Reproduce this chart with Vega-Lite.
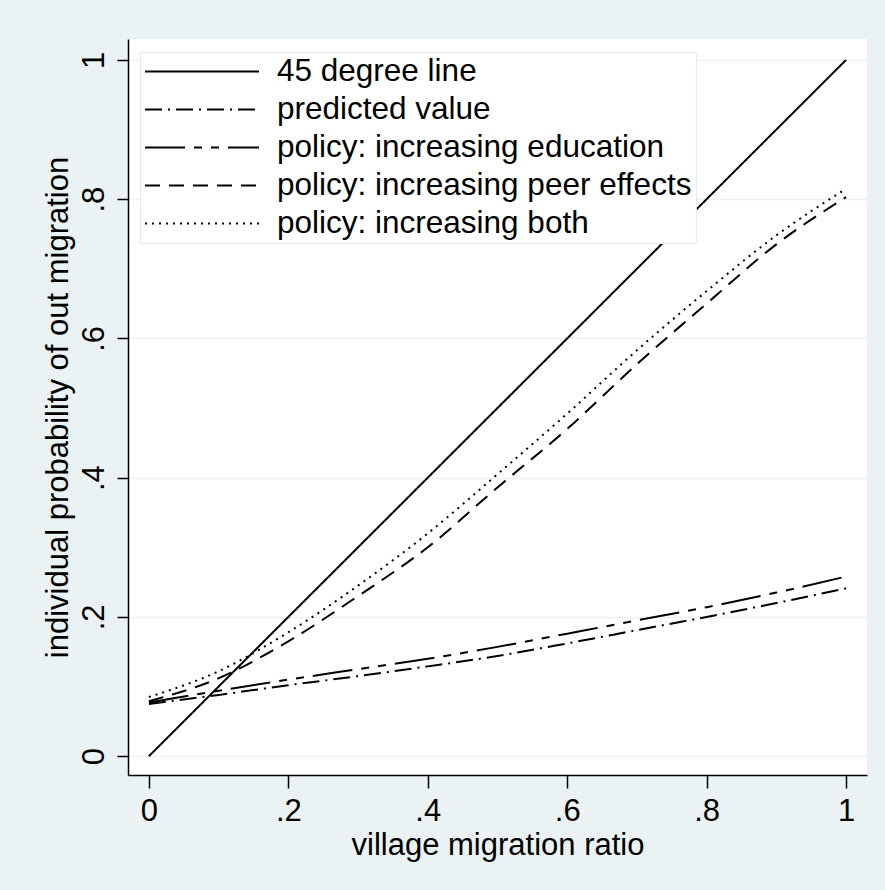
{
  "$schema": "https://vega.github.io/schema/vega-lite/v6.json",
  "width": 739,
  "height": 736,
  "autosize": {"type": "none"},
  "padding": {"left": 128, "top": 39, "right": 18, "bottom": 115},
  "background": "#EAF2F3",
  "config": {"view": {"fill": "white", "stroke": null}, "font": "Liberation Sans"},
  "data": {"values": [
    {"x": 0, "y": 0, "series": "45 degree line"},
    {"x": 1, "y": 1, "series": "45 degree line"},
    {"x": 0, "y": 0.075, "series": "predicted value"},
    {"x": 0.1, "y": 0.088, "series": "predicted value"},
    {"x": 0.2, "y": 0.102, "series": "predicted value"},
    {"x": 0.3, "y": 0.115, "series": "predicted value"},
    {"x": 0.4, "y": 0.129, "series": "predicted value"},
    {"x": 0.5, "y": 0.144, "series": "predicted value"},
    {"x": 0.6, "y": 0.162, "series": "predicted value"},
    {"x": 0.7, "y": 0.181, "series": "predicted value"},
    {"x": 0.8, "y": 0.2, "series": "predicted value"},
    {"x": 0.9, "y": 0.22, "series": "predicted value"},
    {"x": 1, "y": 0.241, "series": "predicted value"},
    {"x": 0, "y": 0.077, "series": "policy: increasing education"},
    {"x": 0.1, "y": 0.094, "series": "policy: increasing education"},
    {"x": 0.2, "y": 0.11, "series": "policy: increasing education"},
    {"x": 0.3, "y": 0.125, "series": "policy: increasing education"},
    {"x": 0.4, "y": 0.14, "series": "policy: increasing education"},
    {"x": 0.5, "y": 0.157, "series": "policy: increasing education"},
    {"x": 0.6, "y": 0.176, "series": "policy: increasing education"},
    {"x": 0.7, "y": 0.195, "series": "policy: increasing education"},
    {"x": 0.8, "y": 0.214, "series": "policy: increasing education"},
    {"x": 0.9, "y": 0.235, "series": "policy: increasing education"},
    {"x": 1, "y": 0.258, "series": "policy: increasing education"},
    {"x": 0, "y": 0.079, "series": "policy: increasing peer effects"},
    {"x": 0.1, "y": 0.112, "series": "policy: increasing peer effects"},
    {"x": 0.2, "y": 0.165, "series": "policy: increasing peer effects"},
    {"x": 0.3, "y": 0.23, "series": "policy: increasing peer effects"},
    {"x": 0.4, "y": 0.3, "series": "policy: increasing peer effects"},
    {"x": 0.5, "y": 0.386, "series": "policy: increasing peer effects"},
    {"x": 0.6, "y": 0.47, "series": "policy: increasing peer effects"},
    {"x": 0.7, "y": 0.563, "series": "policy: increasing peer effects"},
    {"x": 0.8, "y": 0.65, "series": "policy: increasing peer effects"},
    {"x": 0.9, "y": 0.735, "series": "policy: increasing peer effects"},
    {"x": 1, "y": 0.803, "series": "policy: increasing peer effects"},
    {"x": 0, "y": 0.085, "series": "policy: increasing both"},
    {"x": 0.1, "y": 0.122, "series": "policy: increasing both"},
    {"x": 0.2, "y": 0.178, "series": "policy: increasing both"},
    {"x": 0.3, "y": 0.245, "series": "policy: increasing both"},
    {"x": 0.4, "y": 0.32, "series": "policy: increasing both"},
    {"x": 0.5, "y": 0.405, "series": "policy: increasing both"},
    {"x": 0.6, "y": 0.492, "series": "policy: increasing both"},
    {"x": 0.7, "y": 0.583, "series": "policy: increasing both"},
    {"x": 0.8, "y": 0.668, "series": "policy: increasing both"},
    {"x": 0.9, "y": 0.748, "series": "policy: increasing both"},
    {"x": 1, "y": 0.815, "series": "policy: increasing both"}
  ]},
  "mark": {"type": "line", "color": "black", "strokeWidth": 2, "interpolate": "monotone"},
  "encoding": {
    "x": {
      "field": "x", "type": "quantitative",
      "scale": {"domain": [-0.03, 1.03], "nice": false, "zero": false},
      "axis": {
        "title": "village migration ratio",
        "values": [0, 0.2, 0.4, 0.6, 0.8, 1],
        "labelExpr": "datum.value == 0 ? '0' : datum.value == 1 ? '1' : replace(format(datum.value, '.1f'), '0.', '.')",
        "grid": false,
        "domainColor": "black", "domainWidth": 1.5,
        "tickColor": "black", "tickWidth": 1.5, "tickSize": 13,
        "labelFontSize": 31, "labelColor": "black", "labelFont": "Liberation Sans",
        "labelPadding": 8, "labelFlush": false, "labelOverlap": false,
        "titleFontSize": 31, "titleFontWeight": "normal", "titleColor": "black", "titleFont": "Liberation Sans",
        "titlePadding": 4
      }
    },
    "y": {
      "field": "y", "type": "quantitative",
      "scale": {"domain": [-0.027, 1.03], "nice": false, "zero": false},
      "axis": {
        "title": "individual probability of out migration",
        "values": [0, 0.2, 0.4, 0.6, 0.8, 1],
        "labelExpr": "datum.value == 0 ? '0' : datum.value == 1 ? '1' : replace(format(datum.value, '.1f'), '0.', '.')",
        "grid": true, "gridColor": "#EAF2F3", "gridWidth": 1.5,
        "domainColor": "black", "domainWidth": 1.5,
        "tickColor": "black", "tickWidth": 1.5, "tickSize": 11,
        "labelFontSize": 31, "labelColor": "black", "labelFont": "Liberation Sans",
        "labelAngle": -90, "labelAlign": "center", "labelBaseline": "alphabetic",
        "labelPadding": 14, "labelFlush": false, "labelOverlap": false,
        "titleFontSize": 31, "titleFontWeight": "normal", "titleColor": "black", "titleFont": "Liberation Sans",
        "titlePadding": 4
      }
    },
    "strokeDash": {
      "field": "series", "type": "nominal",
      "scale": {
        "domain": ["45 degree line", "predicted value", "policy: increasing education", "policy: increasing peer effects", "policy: increasing both"],
        "range": [[1, 0], [17, 6, 2, 6], [40, 9, 8, 9, 8, 9], [15, 9], [2, 5]]
      },
      "legend": {
        "title": null,
        "orient": "none", "legendX": 12, "legendY": 13,
        "padding": 4,
        "fillColor": "white", "strokeColor": "#E2ECEE",
        "symbolType": "stroke", "symbolSize": 12996, "symbolStrokeWidth": 2, "symbolStrokeColor": "black",
        "labelFontSize": 31.5, "labelFont": "Liberation Sans", "labelColor": "black", "labelOffset": 17,
        "clipHeight": 31, "rowPadding": 6, "labelLimit": 600
      }
    }
  }
}
